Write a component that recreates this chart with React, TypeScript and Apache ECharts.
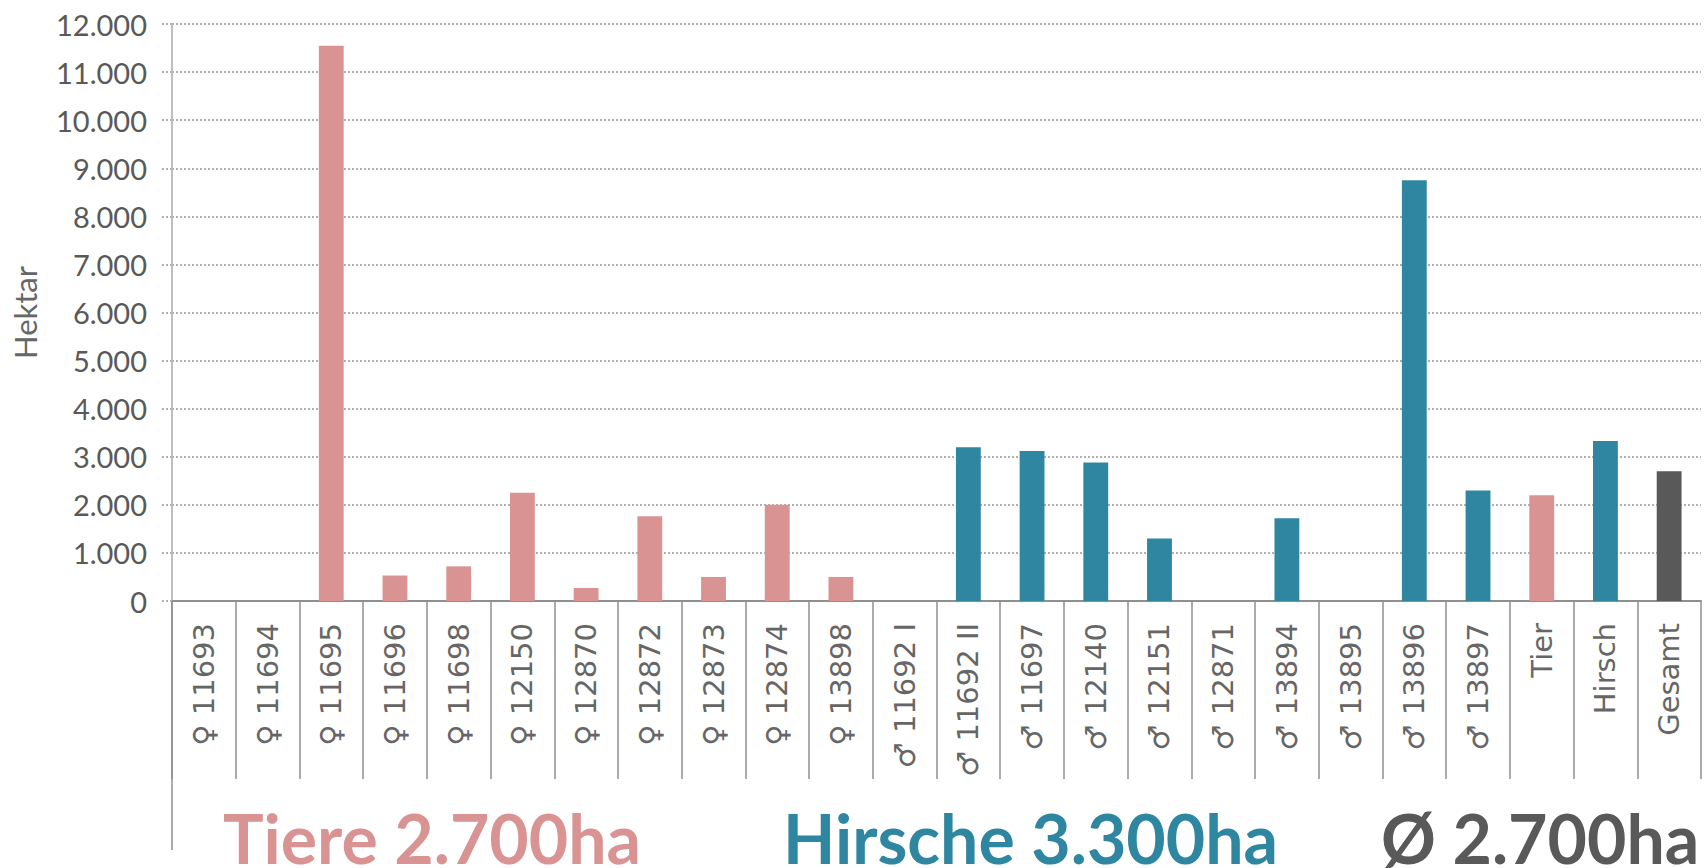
import React, { useEffect, useRef } from "react";
import * as echarts from "echarts";

const categories = ["♀ 11693","♀ 11694","♀ 11695","♀ 11696","♀ 11698","♀ 12150","♀ 12870","♀ 12872","♀ 12873","♀ 12874","♀ 13898","♂ 11692 I","♂ 11692 II","♂ 11697","♂ 12140","♂ 12151","♂ 12871","♂ 13894","♂ 13895","♂ 13896","♂ 13897","Tier","Hirsch","Gesamt"];
const values = [0,0,11550,530,720,2250,270,1760,500,2000,500,0,3200,3120,2880,1300,0,1720,0,8750,2300,2200,3330,2700];
const groups = ["t","t","t","t","t","t","t","t","t","t","t","h","h","h","h","h","h","h","h","h","h","t","h","g"];
const colors: Record<string,string> = { t: "#D99393", h: "#2E86A0", g: "#595959" };
const summaries = [
  { text: "Tiere 2.700ha", key: "t", x: 223 },
  { text: "Hirsche 3.300ha", key: "h", x: 783 },
  { text: "Ø 2.700ha", key: "g", x: 1381 },
];

export default function App() {
  const ref = useRef<HTMLDivElement>(null);
  useEffect(() => {
    document.body.style.margin = "0";
    document.body.style.overflow = "hidden";
    const chart = echarts.init(ref.current!, null, { renderer: "svg" });
    chart.setOption({
      animation: false,
      backgroundColor: "#fff",
      grid: { left: 172, right: 7, top: 24, bottom: 267, containLabel: false, outerBoundsMode: "none" },
      xAxis: {
        type: "category",
        data: categories,
        axisLine: { lineStyle: { color: "#8f8f8f", width: 2 } },
        axisTick: { show: true, length: 178, alignWithLabel: false, lineStyle: { color: "#8f8f8f", width: 1.5 } },
        axisLabel: {
          interval: 0,
          rotate: 90,
          margin: 22,
          color: "#666666",
          fontFamily: "DejaVu Sans",
          fontSize: 29,
        },
      },
      yAxis: {
        type: "value",
        min: 0,
        max: 12000,
        interval: 1000,
        name: "Hektar",
        nameLocation: "middle",
        nameGap: 132,
        nameTextStyle: { color: "#666666", fontFamily: "Lato", fontSize: 31 },
        axisLine: { show: true, lineStyle: { color: "#bfbfbf", width: 2 } },
        axisTick: { show: true, length: 10, lineStyle: { color: "#b0b0b0", type: "dotted", width: 2 } },
        axisLabel: {
          margin: 25,
          padding: [0, 0, 4, 0],
          color: "#595959",
          fontFamily: "Lato",
          fontSize: 29,
          formatter: (v: number) => (v === 0 ? "0" : `${v / 1000}.000`),
        },
        splitLine: { show: true, lineStyle: { color: "#b0b0b0", type: "dotted", width: 2 } },
      },
      series: [
        {
          type: "bar",
          barWidth: "39%",
          data: values.map((v, i) => ({ value: v, itemStyle: { color: colors[groups[i]] } })),
        },
      ],
      graphic: [
        { type: "line", shape: { x1: 172, y1: 601, x2: 172, y2: 850 }, style: { stroke: "#8f8f8f", lineWidth: 1.5 } },
        ...summaries.map((s) => ({
          type: "text",
          x: s.x,
          y: 837,
          style: {
            text: s.text,
            fill: colors[s.key],
            font: "bold 68px Lato",
            verticalAlign: "middle",
          },
        })),
      ],
    });
    return () => chart.dispose();
  }, []);
  return <div ref={ref} style={{ width: 1708, height: 868 }} />;
}
